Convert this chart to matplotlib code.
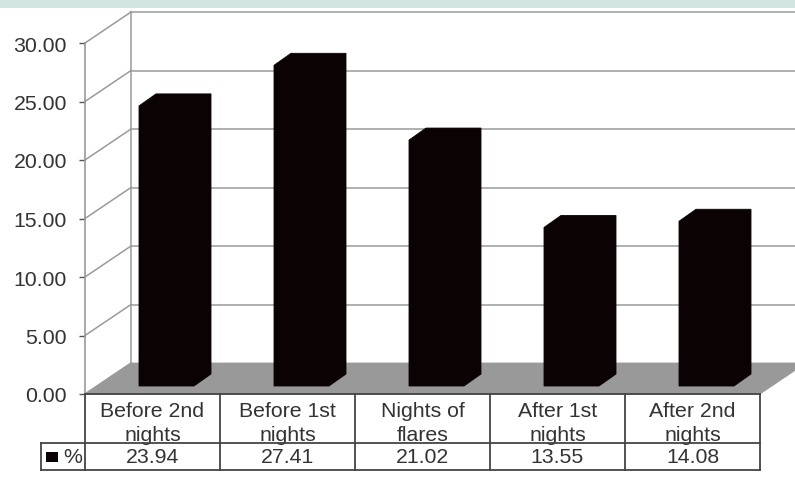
import matplotlib
matplotlib.use('Agg')
import matplotlib.pyplot as plt
from matplotlib.patches import Polygon, Rectangle

categories = [['Before 2nd', 'nights'], ['Before 1st', 'nights'], ['Nights of', 'flares'],
              ['After 1st', 'nights'], ['After 2nd', 'nights']]
values = [23.94, 27.41, 21.02, 13.55, 14.08]
yticks = [0, 5, 10, 15, 20, 25, 30]
series_name = '%'

plt.rcParams['font.family'] = ['Liberation Sans', 'DejaVu Sans']

W, H = 795, 481
X0, X1 = 85, 760     # front plane, pixels
Y0, Y30 = 395, 44
PX = (X1 - X0) / 5.0       # pixels per category
PY = (Y0 - Y30) / 30.0     # pixels per unit

# depth of the 3d box in data units
DX = 46 / PX
DY = 31 / PY
GREY = '#9a9a9a'
TEXT = '#333333'
BAR = '#0a0203'
FONT = 15.3


def row(py):
    # pixel row below the axis -> y data value
    return (Y0 - py) / PY


def poly(ax, pts, color, z):
    ax.add_patch(Polygon(pts, closed=True, facecolor=color, edgecolor=color, linewidth=0.6,
                         clip_on=False, zorder=z))


fig = plt.figure(figsize=(W / 100, H / 100), dpi=100)
fig.patches.append(Rectangle((0, 1 - 9 / H), 1, 9 / H, transform=fig.transFigure,
                             facecolor='#d2e5e3', edgecolor='none'))
ax = fig.add_axes([X0 / W, 1 - Y0 / H, (X1 - X0) / W, (Y0 - Y30) / H])
ax.set_xlim(0, 5)
ax.set_ylim(0, 30)
ax.patch.set_visible(False)

for s in ['top', 'right', 'bottom']:
    ax.spines[s].set_visible(False)
ax.spines['left'].set_color(GREY)
ax.spines['left'].set_linewidth(1.2)
ax.set_xticks([])
ax.set_yticks(yticks)
ax.set_yticklabels(['{:.2f}'.format(t) for t in yticks], fontsize=FONT, color=TEXT)
ax.tick_params(axis='y', length=4, width=1, color='#555555', pad=9)

# floor
poly(ax, [(0, 0), (5, 0), (5 + DX, DY), (DX, DY)], '#999999', 1)

# back wall grid and side wall diagonals
for t in yticks:
    ax.plot([0, DX], [t, t + DY], color=GREY, lw=1.1, clip_on=False, zorder=1)
    if t > 0:
        ax.plot([DX, 5 + DX], [t + DY, t + DY], color=GREY, lw=1.1, clip_on=False, zorder=1)
ax.plot([DX, DX], [DY, 30 + DY], color=GREY, lw=1.1, clip_on=False, zorder=1)

# bars: outline of the front, side and top faces, all the same colour
bar_left = 0.4
bar_w = 55 / PX
side_x = 17 / PX
side_y = 12 / PY
base = 8 / PY
for i, v in enumerate(values):
    x = i + bar_left
    top = v + base
    poly(ax, [(x, base), (x + bar_w, base), (x + bar_w + side_x, base + side_y),
              (x + bar_w + side_x, top + side_y), (x + side_x, top + side_y), (x, top)], BAR, 3)

# data table under the plot
line = dict(color='#444444', lw=1.3, clip_on=False, zorder=4)
ax.plot([0, 5], [0, 0], **line)
legend_x = (41 - X0) / PX
ax.plot([legend_x, 5], [row(444), row(444)], **line)
ax.plot([legend_x, 5], [row(471), row(471)], **line)
ax.plot([legend_x, legend_x], [row(444), row(471)], **line)
for i in range(6):
    ax.plot([i, i], [0, row(471)], **line)

for i, (lab, v) in enumerate(zip(categories, values)):
    ax.text(i + 0.5, row(412), lab[0], ha='center', va='center', fontsize=FONT, color=TEXT, clip_on=False)
    ax.text(i + 0.5, row(436), lab[1], ha='center', va='center', fontsize=FONT, color=TEXT, clip_on=False)
    ax.text(i + 0.5, row(458), '{:.2f}'.format(v), ha='center', va='center', fontsize=FONT, color=TEXT)

ax.add_patch(Rectangle((legend_x + 5 / PX, row(463)), 12 / PX, 10 / PY, facecolor=BAR, edgecolor='none',
                       clip_on=False, zorder=4))
ax.text((63 - X0) / PX, row(458), series_name, ha='left', va='center', fontsize=FONT, color=TEXT)

fig.savefig('out.png', dpi=100)
